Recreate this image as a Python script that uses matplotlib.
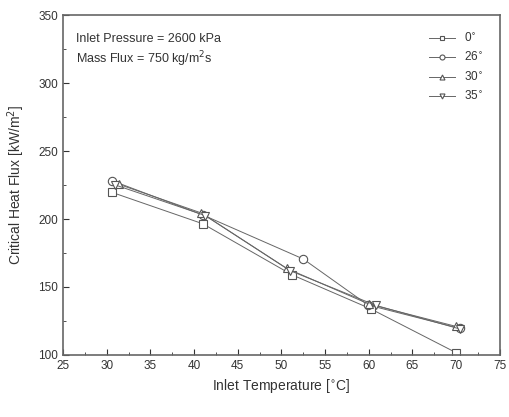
import matplotlib
matplotlib.use('Agg')
import matplotlib.pyplot as plt
from matplotlib.ticker import MultipleLocator

plt.rcParams['font.family'] = ['Liberation Sans', 'DejaVu Sans']

# data
t_0 = [30.6, 41.0, 51.2, 60.2, 70.0]
chf_0 = [219.6, 196.5, 159.0, 134.0, 101.7]
t_26 = [30.6, 41.0, 52.5, 59.9, 70.4]
chf_26 = [228.2, 203.0, 170.6, 136.8, 119.6]
t_30 = [31.4, 40.8, 50.6, 60.0, 70.0]
chf_30 = [225.5, 204.5, 163.7, 137.5, 121.0]
t_35 = [31.0, 41.3, 51.0, 60.8, 70.5]
chf_35 = [225.0, 202.5, 162.0, 136.5, 119.0]
labels = ['0$^{\\circ}$', '26$^{\\circ}$', '30$^{\\circ}$', '35$^{\\circ}$']

fig = plt.figure(figsize=(5.1, 4.17), dpi=100)
ax = fig.add_axes([0.1235, 0.1487, 0.8565, 0.8153])

c = '#666666'
kw = dict(color=c, lw=0.7, mfc='white', mec='#555555', ms=6, mew=0.8)
ax.plot(t_0, chf_0, marker='s', label=labels[0], **kw)
ax.plot(t_26, chf_26, marker='o', label=labels[1], **kw)
ax.plot(t_30, chf_30, marker='^', label=labels[2], **kw)
ax.plot(t_35, chf_35, marker='v', label=labels[3], **kw)

ax.set_xlim(25, 75)
ax.set_ylim(100, 350)
ax.xaxis.set_major_locator(MultipleLocator(5))
ax.xaxis.set_minor_locator(MultipleLocator(2.5))
ax.yaxis.set_major_locator(MultipleLocator(50))
ax.yaxis.set_minor_locator(MultipleLocator(25))
ax.tick_params(which='both', direction='in', colors='#333333', labelsize=8.5)
ax.tick_params(which='major', length=4)
ax.tick_params(which='minor', length=2)
for s in ax.spines.values():
    s.set_color('#666666')
    s.set_linewidth(1.2)

ax.set_xlabel('Inlet Temperature [$^{\\circ}$C]', fontsize=10, color='#333333')
ax.set_ylabel('Critical Heat Flux [kW/m$^{2}$]', fontsize=10, color='#333333',
              labelpad=8)

ax.text(0.03, 0.93, 'Inlet Pressure = 2600 kPa', transform=ax.transAxes,
        fontsize=9, color='#333333', va='center')
ax.text(0.03, 0.87, 'Mass Flux = 750 kg/m$^{2}$s', transform=ax.transAxes,
        fontsize=9, color='#333333', va='center')

leg = ax.legend(loc='upper right', frameon=False, fontsize=8.5, markerscale=0.6,
                handlelength=2.2, labelspacing=0.55, borderaxespad=1.0,
                labelcolor='#333333')

fig.savefig('out.png', dpi=100)
